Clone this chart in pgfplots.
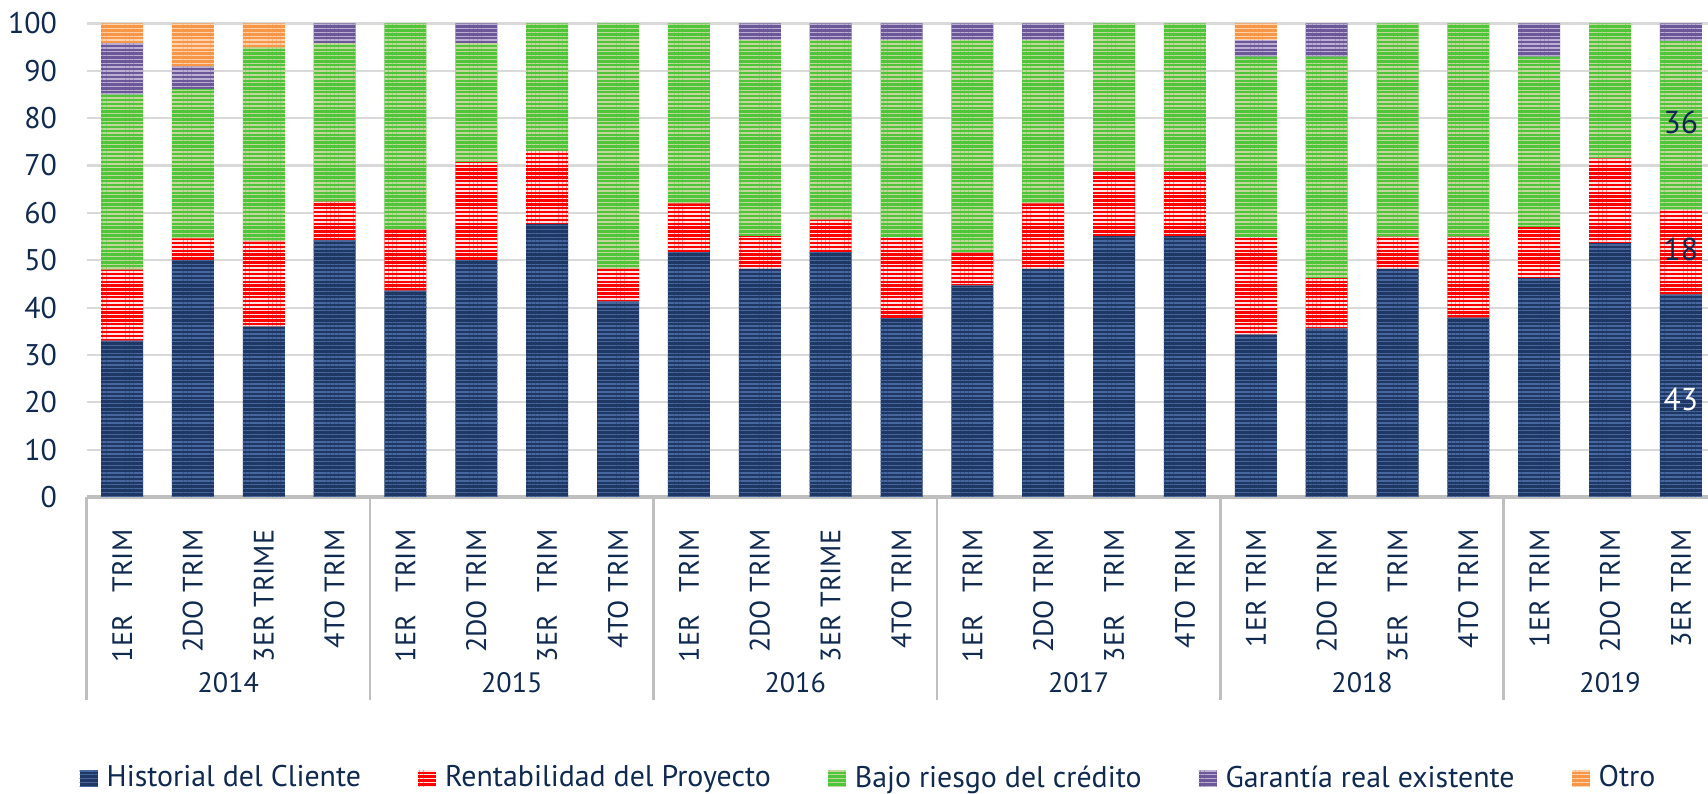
\documentclass[border=0pt]{standalone}
\usepackage{pgfplots}
\pgfplotsset{compat=1.18}
\usepackage{fontspec}
\setmainfont{PT Sans}
\usetikzlibrary{patterns.meta}

\definecolor{txt}{HTML}{10294F}
\definecolor{bA}{HTML}{1E3763}\definecolor{bB}{HTML}{4767A0}
\definecolor{rA}{HTML}{FF0000}\definecolor{rB}{HTML}{FFE2E2}
\definecolor{gA}{HTML}{4FC53A}\definecolor{gB}{HTML}{C4D69C}
\definecolor{pA}{HTML}{6C5898}\definecolor{pB}{HTML}{BBAFD4}
\definecolor{oA}{HTML}{F79646}\definecolor{oB}{HTML}{FDD3AF}
\definecolor{gridc}{HTML}{D9D9D9}
\definecolor{axl}{HTML}{BFBFBF}

\pgfplotsset{
  sA/.style={fill=bA, draw=none, postaction={pattern={Lines[angle=0,distance=1.1pt,line width=0.42pt]}, pattern color=bB}},
  sB/.style={fill=rA, draw=none, postaction={pattern={Lines[angle=0,distance=1.1pt,line width=0.42pt]}, pattern color=rB}},
  sC/.style={fill=gA, draw=none, postaction={pattern={Lines[angle=0,distance=1.1pt,line width=0.42pt]}, pattern color=gB}},
  sD/.style={fill=pA, draw=none, postaction={pattern={Lines[angle=0,distance=1.1pt,line width=0.42pt]}, pattern color=pB}},
  sE/.style={fill=oA, draw=none, postaction={pattern={Lines[angle=0,distance=1.1pt,line width=0.42pt]}, pattern color=oB}},
}

\begin{document}
\begin{tikzpicture}
\useasboundingbox (0,0) rectangle (17.08cm,7.94cm);
\begin{axis}[
  at={(0.866cm,2.97cm)}, anchor=south west,
  scale only axis, width=16.298cm, height=4.735cm,
  xmin=-0.5, xmax=22.5, ymin=0, ymax=100,
  ybar stacked, bar width=0.42cm,
  axis x line*=bottom, axis y line*=left,
  x axis line style={axl, line width=1.1pt, -},
  y axis line style={draw=none},
  ytick={0,10,...,100},
  ymajorgrids, grid style={gridc, line width=0.6pt},
  major tick length=0pt, tick style={draw=none},
  xtick={0,...,22},
  xticklabels={{1ER\ \ \ TRIM},{2DO TRIM},{3ER TRIME},{4TO TRIM},
               {1ER\ \ \ TRIM},{2DO TRIM},{3ER\ \ \ TRIM},{4TO TRIM},
               {1ER\ \ \ TRIM},{2DO TRIM},{3ER TRIME},{4TO TRIM},
               {1ER\ \ \ TRIM},{2DO TRIM},{3ER\ \ \ TRIM},{4TO TRIM},
               {1ER TRIM},{2DO TRIM},{3ER\ \ \ TRIM},{4TO TRIM},
               {1ER TRIM},{2DO TRIM},{3ER TRIM}},
  xticklabel style={yshift=-0.11cm, rotate=90, anchor=east, inner sep=0pt, font=\fontsize{8}{10}\selectfont, text=txt},
  xticklabel shift=0.21cm,
  yticklabel style={inner sep=0pt, font=\fontsize{8.5}{10}\selectfont, text=txt},
  yticklabel shift=0.29cm,
  /pgf/number format/assume math mode=true,
  clip=false,
  legend columns=5,
  legend image code/.code={\draw[#1, draw=none] (0cm,-0.085cm) rectangle (0.18cm,0.085cm);},
  legend style={at={(axis description cs:0,0)}, anchor=west, xshift=-0.076cm, yshift=-2.82cm,
    draw=none, fill=none, inner sep=0pt, font=\fontsize{8.5}{10}\selectfont, text=txt,
    nodes={inner xsep=0pt, inner ysep=1pt},
    /tikz/every odd column/.append style={column sep=0.09cm},
    /tikz/every even column/.append style={column sep=0.57cm}},
]
% Historial del Cliente
\addplot[sA] coordinates {(0,33.0) (1,50.0) (2,36.0) (3,54.2) (4,43.6) (5,50.0) (6,57.7) (7,41.3) (8,51.7) (9,48.2) (10,51.7) (11,37.8) (12,44.7) (13,48.2) (14,55.1) (15,55.1) (16,34.3) (17,35.6) (18,48.2) (19,37.9) (20,46.3) (21,53.6) (22,42.8)};
% Rentabilidad del Proyecto
\addplot[sB] coordinates {(0,15.0) (1,4.6) (2,18.0) (3,8.2) (4,12.9) (5,20.7) (6,15.4) (7,6.9) (8,10.3) (9,6.9) (10,6.9) (11,17.1) (12,6.9) (13,13.8) (14,13.8) (15,13.8) (16,20.6) (17,10.6) (18,6.8) (19,17.1) (20,10.7) (21,17.9) (22,17.8)};
% Bajo riesgo del credito
\addplot[sC] coordinates {(0,37.0) (1,31.6) (2,40.9) (3,33.45) (4,43.5) (5,25.15) (6,26.9) (7,51.8) (8,38.0) (9,41.4) (10,37.9) (11,41.6) (12,44.9) (13,34.5) (14,31.1) (15,31.1) (16,38.1) (17,46.8) (18,45.0) (19,45.0) (20,36.0) (21,28.5) (22,35.7)};
% Garantia real existente
\addplot[sD] coordinates {(0,10.85) (1,4.7) (2,0) (3,4.15) (4,0) (5,4.15) (6,0) (7,0) (8,0) (9,3.5) (10,3.5) (11,3.5) (12,3.5) (13,3.5) (14,0) (15,0) (16,3.5) (17,7.0) (18,0) (19,0) (20,7.0) (21,0) (22,3.7)};
% Otro
\addplot[sE] coordinates {(0,4.15) (1,9.1) (2,5.1) (3,0) (4,0) (5,0) (6,0) (7,0) (8,0) (9,0) (10,0) (11,0) (12,0) (13,0) (14,0) (15,0) (16,3.5) (17,0) (18,0) (19,0) (20,0) (21,0) (22,0)};
\legend{Historial del Cliente,Rentabilidad del Proyecto,Bajo riesgo del crédito,Garantía real existente,Otro}

\pgfplotsinvokeforeach{-0.5,3.5,7.5,11.5,15.5,19.5}{
  \draw[axl, line width=0.8pt] (axis cs:#1,0) -- ([yshift=-2.03cm]axis cs:#1,0);
}
\node[font=\fontsize{8}{10}\selectfont, text=txt] at (axis cs:1.5,0) [yshift=-1.86cm] {2014};
\node[font=\fontsize{8}{10}\selectfont, text=txt] at (axis cs:5.5,0) [yshift=-1.86cm] {2015};
\node[font=\fontsize{8}{10}\selectfont, text=txt] at (axis cs:9.5,0) [yshift=-1.86cm] {2016};
\node[font=\fontsize{8}{10}\selectfont, text=txt] at (axis cs:13.5,0) [yshift=-1.86cm] {2017};
\node[font=\fontsize{8}{10}\selectfont, text=txt] at (axis cs:17.5,0) [yshift=-1.86cm] {2018};
\node[font=\fontsize{8}{10}\selectfont, text=txt] at (axis cs:21,0) [yshift=-1.86cm] {2019};

\coordinate (L43) at (axis cs:22,20.6);
\coordinate (L18) at (axis cs:22,52.3);
\coordinate (L36) at (axis cs:22,79.2);
\end{axis}
\node[font=\fontsize{9}{10}\selectfont, text=white] at (L43) {43};
\node[font=\fontsize{9}{10}\selectfont, text=txt] at (L18) {18};
\node[font=\fontsize{9}{10}\selectfont, text=txt] at (L36) {36};
\end{tikzpicture}
\end{document}
